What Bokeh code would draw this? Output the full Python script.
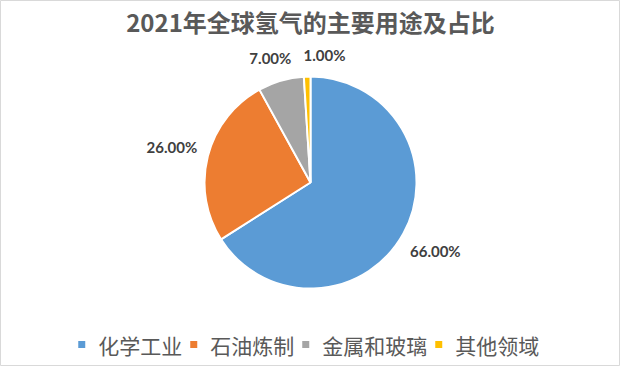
import math
from bokeh.plotting import figure
from bokeh.models import Range1d, ColumnDataSource
from bokeh.core.properties import value
from bokeh.embed import file_html
from bokeh.resources import INLINE

title = "2021年全球氢气的主要用途及占比"
categories = ["化学工业", "石油炼制", "金属和玻璃", "其他领域"]
shares = [66.0, 26.0, 7.0, 1.0]
colors = ["#5B9BD5", "#ED7D31", "#A5A5A5", "#FFC000"]
# label nudges (pixels) mimicking the chart's overlap avoidance
label_nudge_x = [0, 0, -4, 18]
label_nudge_y = [0, 0, 0, 3]

W, H = 620, 366
p = figure(width=W, height=H, output_backend="svg", toolbar_location=None,
           x_range=Range1d(8, 8 + W), y_range=Range1d(8, 8 + H),
           min_border=0, background_fill_color="white", border_fill_color="white")
p.axis.visible = False
p.grid.visible = False
p.outline_line_color = "#D9D9D9"
p.outline_line_width = 1

def Y(y_ref):
    return 382 - y_ref

cx, cy, r = 318, Y(190), 106
total = sum(shares)
starts, ends, mids = [], [], []
a = math.pi / 2
for s in shares:
    sweep = s / total * 2 * math.pi
    starts.append(a)
    ends.append(a - sweep)
    mids.append(a - sweep / 2)
    a -= sweep

src = ColumnDataSource(dict(start=starts, end=ends, color=colors))
p.wedge(x=cx, y=cy, radius=r, radius_units="screen", start_angle="start", end_angle="end",
        direction="clock", fill_color="color", line_color="white", line_width=2, source=src)

# data labels (outside end)
lab_font = 15
lx, ly, lt = [], [], []
for i, (s, m) in enumerate(zip(shares, mids)):
    txt = f"{s:.2f}%"
    hw = len(txt) * 0.56 * lab_font / 2
    hh = 7
    d = r + 11 + hw * abs(math.cos(m)) + hh * abs(math.sin(m))
    lx.append(cx + d * math.cos(m) + label_nudge_x[i])
    ly.append(cy + d * math.sin(m) + label_nudge_y[i])
    lt.append(txt)
p.text(x=lx, y=ly, text=lt, text_align="center", text_baseline="middle",
       text_font=value("Lato"), text_font_style="bold", text_font_size=f"{lab_font}px",
       text_color="#404040")

# title
p.text(x=[318], y=[Y(29)], text=[title], text_align="center", text_baseline="middle",
       text_font=value("Noto Sans CJK SC"), text_font_size="24px", text_color="#595959",
       text_font_style="bold")

# legend
lg_font = 21
sq = 7
gap_sq_txt = 16.5
gap_txt_sq = 11.5
widths = [gap_sq_txt + len(c) * lg_font for c in categories]
total_w = sum(widths) + gap_txt_sq * (len(categories) - 1)
x0 = 318 - total_w / 2
sqx, txx = [], []
x = x0
for c, w in zip(categories, widths):
    sqx.append(x)
    txx.append(x + gap_sq_txt)
    x += w + gap_txt_sq
ly_leg = Y(352)
p.rect(x=sqx, y=[ly_leg] * 4, width=sq, height=sq, width_units="screen", height_units="screen",
       fill_color=colors, line_color=None)
p.text(x=txx, y=[ly_leg] * 4, text=categories, text_align="left", text_baseline="middle",
       text_font=value("Noto Sans CJK SC"), text_font_size=f"{lg_font}px", text_color="#595959")

open("out.html", "w").write(file_html(p, INLINE))
